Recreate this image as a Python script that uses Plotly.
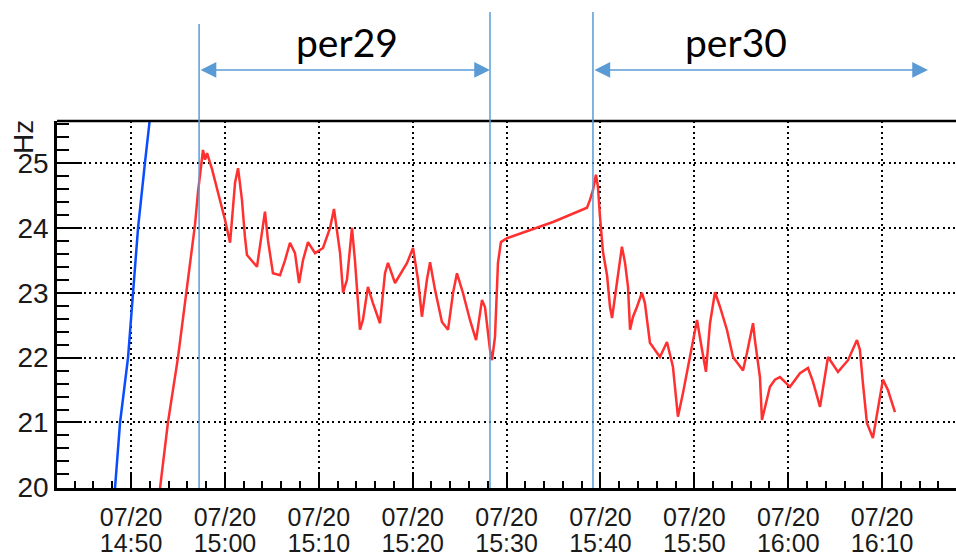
import plotly.graph_objects as go

DAY = "2015-07-20"

# Frequency trace after the restart (time of day, Hz)
red_times = [
    "14:53:00", "14:53:56", "14:55:00", "14:55:58", "14:56:49", "14:57:08", "14:57:40",
    "14:57:53", "14:58:06", "14:58:38", "14:59:29", "15:00:01", "15:00:33", "15:00:52",
    "15:01:05", "15:01:24", "15:01:49", "15:02:08", "15:02:21", "15:03:25", "15:03:44",
    "15:04:16", "15:04:35", "15:05:07", "15:05:52", "15:06:24", "15:06:56", "15:07:28",
    "15:07:54", "15:08:19", "15:08:51", "15:09:36", "15:10:27", "15:11:12", "15:11:37",
    "15:12:16", "15:12:35", "15:13:00", "15:13:32", "15:13:51", "15:14:23", "15:14:42",
    "15:15:14", "15:15:46", "15:16:31", "15:17:03", "15:17:22", "15:18:07", "15:19:24",
    "15:20:02", "15:20:34", "15:20:59", "15:21:31", "15:21:51", "15:22:23", "15:23:07",
    "15:23:46", "15:24:18", "15:24:43", "15:25:21", "15:26:06", "15:26:45", "15:27:23",
    "15:27:42", "15:28:14", "15:28:27", "15:28:46", "15:29:05", "15:29:24", "15:30:03",
    "15:34:57", "15:38:34", "15:38:53", "15:39:12", "15:39:31", "15:39:44", "15:39:57",
    "15:40:16", "15:40:42", "15:41:01", "15:41:14", "15:41:46", "15:42:17", "15:42:37",
    "15:42:56", "15:43:09", "15:43:28", "15:43:53", "15:44:25", "15:44:44", "15:45:16",
    "15:46:20", "15:47:05", "15:47:43", "15:48:15", "15:48:47", "15:49:32", "15:50:17",
    "15:50:49", "15:51:14", "15:51:40", "15:52:12", "15:52:44", "15:53:28", "15:54:07",
    "15:55:11", "15:55:36", "15:56:15", "15:56:27", "15:56:59", "15:57:12", "15:57:31",
    "15:58:03", "15:58:35", "15:59:07", "16:00:11", "16:01:15", "16:02:06", "16:02:38",
    "16:03:23", "16:03:55", "16:04:14", "16:05:18", "16:06:22", "16:07:19", "16:07:38",
    "16:07:57", "16:08:23", "16:09:01", "16:09:33", "16:10:05", "16:10:37", "16:11:22",
]
red_hz = [
    19.88, 21.0, 22.0, 23.05, 24.05, 24.55, 25.2,
    25.05, 25.15, 24.9, 24.43, 24.12, 23.77, 24.32,
    24.7, 24.92, 24.43, 23.86, 23.58, 23.4, 23.7,
    24.25, 23.81, 23.3, 23.27, 23.5, 23.77, 23.61,
    23.15, 23.5, 23.78, 23.61, 23.69, 24.0, 24.29,
    23.61, 23.0, 23.2, 24.0, 23.5, 22.43, 22.58,
    23.09, 22.84, 22.53, 23.3, 23.46, 23.15, 23.46,
    23.69, 23.2, 22.63, 23.2, 23.47, 23.04, 22.55,
    22.43, 23.0, 23.3, 23.0, 22.58, 22.27, 22.89,
    22.78, 22.12, 21.96, 22.32, 23.46, 23.78, 23.84,
    24.09, 24.31, 24.43, 24.58, 24.82, 24.63, 24.17,
    23.63, 23.27, 22.78, 22.61, 23.15, 23.71, 23.46,
    23.09, 22.43, 22.63, 22.78, 23.0, 22.84, 22.23,
    22.01, 22.24, 21.86, 21.09, 21.45, 22.0, 22.58,
    22.12, 21.78, 22.53, 23.01, 22.78, 22.43, 22.01,
    21.8, 22.07, 22.53, 22.27, 21.7, 21.04, 21.24,
    21.55, 21.66, 21.7, 21.55, 21.76, 21.84, 21.63,
    21.24, 21.76, 22.01, 21.78, 21.96, 22.27, 22.12,
    21.61, 20.99, 20.76, 21.24, 21.66, 21.5, 21.16,
]

# Earlier ramp-up trace
blue_times = ["14:48:00", "14:48:18", "14:48:50", "14:49:41", "14:50:13",
              "14:50:45", "14:51:29", "14:52:01", "14:52:20"]
blue_hz = [19.53, 20.0, 21.0, 22.0, 23.0, 24.0, 25.0, 25.65, 26.1]

# Measurement periods: (start, end, label, label time)
periods = [
    ("14:57:15", "15:28:14", "per29", "15:13:00"),
    ("15:39:12", "16:14:53", "per30", "15:54:26"),
]
# Boundary markers: (time, top of marker in paper units)
boundaries = [("14:57:15", 1.264), ("15:28:14", 1.297), ("15:39:12", 1.297)]

ts = lambda t: f"{DAY} {t}"

ANNO_BLUE = "#5b9bd5"
TICK_FONT = dict(family="Liberation Sans, Arial, sans-serif", size=28, color="#1a1a1a")
XTICK_FONT = dict(family="Liberation Sans, Arial, sans-serif", size=25, color="#1a1a1a")

fig = go.Figure()
fig.add_trace(go.Scatter(
    x=[ts(t) for t in red_times], y=red_hz, mode="lines",
    line=dict(color="#ff3030", width=2.5), hoverinfo="skip", xaxis="x",
))
fig.add_trace(go.Scatter(
    x=[ts(t) for t in blue_times], y=blue_hz, mode="lines",
    line=dict(color="#0a4cff", width=2.5), hoverinfo="skip", xaxis="x2",
))

common_x = dict(
    type="date", tick0=ts("14:50:00"), dtick=600000, zeroline=False, automargin=False,
)
fig.update_layout(
    width=956, height=559,
    margin=dict(l=57, r=0, t=121, b=71),
    plot_bgcolor="white", paper_bgcolor="white", showlegend=False,
    xaxis=dict(
        **common_x,
        range=[ts("14:42:07"), ts("16:17:52")],
        tickformat="%m/%d", tickfont=XTICK_FONT, ticklabelstandoff=5,
        ticks="inside", ticklen=16, tickwidth=2, tickcolor="black",
        showline=True, linecolor="black", linewidth=2.5,
        showgrid=True, gridcolor="black", gridwidth=2, griddash="2px,3.4px",
        minor=dict(tick0=ts("14:50:00"), dtick=120000, ticks="inside", ticklen=7,
                   tickwidth=2, tickcolor="black", showgrid=False),
    ),
    xaxis2=dict(
        **common_x,
        overlaying="x", matches="x", anchor="y", side="bottom",
        tickformat="%H:%M", tickfont=XTICK_FONT, ticklabelstandoff=38,
        ticks="", showline=False, showgrid=False,
    ),
    yaxis=dict(
        range=[19.99, 25.647], tick0=20, dtick=1, zeroline=False, automargin=False,
        tickfont=TICK_FONT,
        ticks="inside", ticklen=25, tickwidth=2, tickcolor="black",
        showline=True, linecolor="black", linewidth=2.5,
        showgrid=True, gridcolor="black", gridwidth=2, griddash="2px,3.4px",
        minor=dict(dtick=0.2, ticks="inside", ticklen=12, tickwidth=2,
                   tickcolor="black", showgrid=False),
    ),
)

# top frame edge
fig.add_shape(type="line", xref="paper", yref="paper", x0=0, x1=1, y0=1, y1=1,
              line=dict(color="black", width=2.5))

for t, top in boundaries:
    fig.add_shape(type="line", xref="x", yref="paper", x0=ts(t), x1=ts(t), y0=0, y1=top,
                  line=dict(color=ANNO_BLUE, width=1.5))

for start, end, label, label_t in periods:
    fig.add_annotation(
        x=ts(end), y=1.139, xref="x", yref="paper",
        ax=ts(start), ay=0, axref="x", ayref="pixel",
        text="", showarrow=True, arrowside="end+start",
        arrowhead=2, arrowsize=2.1, arrowwidth=1.5, arrowcolor=ANNO_BLUE,
    )
    fig.add_annotation(
        x=ts(label_t), y=1.215, xref="x", yref="paper", text=label, showarrow=False,
        font=dict(family="Lato, sans-serif", size=39, color="black"),
        xanchor="center", yanchor="middle",
    )

fig.add_annotation(
    x=-0.038, y=0.956, xref="paper", yref="paper", text="Hz", textangle=-90,
    showarrow=False, font=TICK_FONT, xanchor="center", yanchor="middle",
)

fig.write_html("out.html")
